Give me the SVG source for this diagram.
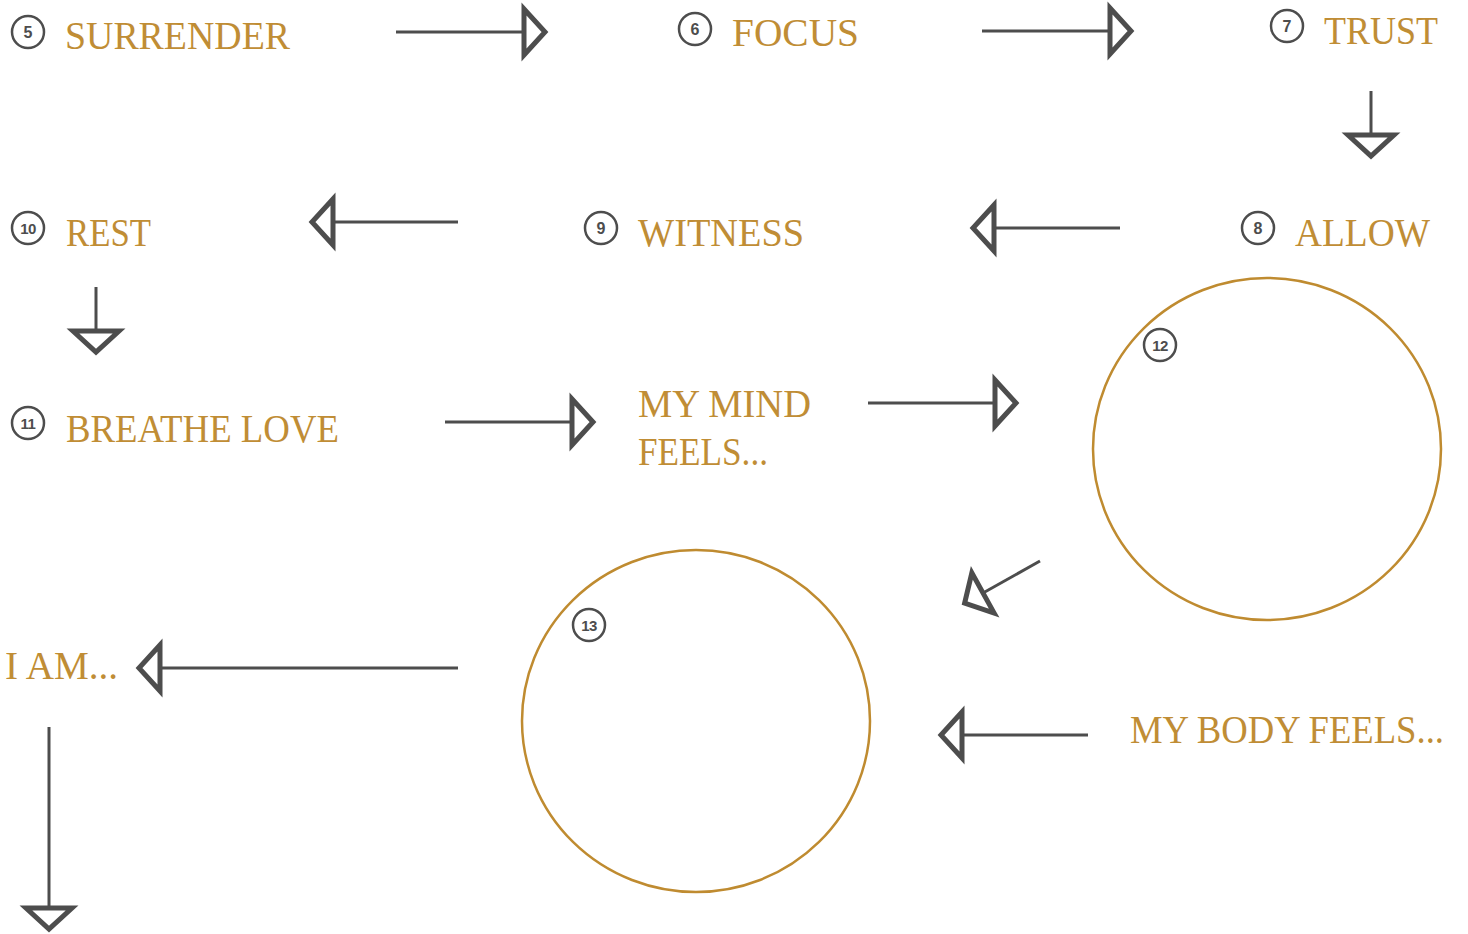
<svg xmlns="http://www.w3.org/2000/svg" xmlns:xlink="http://www.w3.org/1999/xlink" width="1468" height="934" viewBox="0 0 1468 934">
<style>
.lbl{font-family:"Liberation Serif","DejaVu Serif",serif;font-size:40px;fill:#C08D35;}
.num circle{fill:none;stroke:#4D4D4D;stroke-width:2.5;}
.num text{font-family:"Liberation Sans","DejaVu Sans",sans-serif;font-size:16px;font-weight:bold;fill:#4D4D4D;text-anchor:middle;}
.num text.two{font-size:15px;letter-spacing:-0.5px;}
.ln{stroke:#4D4D4D;stroke-width:3;fill:none;}
.hd{fill:#fff;stroke:#4D4D4D;stroke-width:5;stroke-linejoin:miter;stroke-miterlimit:10;}
.ring{fill:none;stroke:#BF8B30;stroke-width:2.5;}
</style>
<defs>
<polygon id="head" class="hd" points="0,-23 0,23 21,0"/>
</defs>
<rect width="1468" height="934" fill="#fff"/>

<g id="n5"><g class="num"><circle cx="28" cy="32" r="16"/><text x="28" y="38">5</text></g><text class="lbl" x="65" y="49" textLength="225" lengthAdjust="spacingAndGlyphs">SURRENDER</text></g>
<g id="n6"><g class="num"><circle cx="695" cy="29" r="16"/><text x="695" y="35">6</text></g><text class="lbl" x="732" y="46" textLength="127" lengthAdjust="spacingAndGlyphs">FOCUS</text></g>
<g id="n7"><g class="num"><circle cx="1287" cy="26" r="16"/><text x="1287" y="32">7</text></g><text class="lbl" x="1324" y="44" textLength="114" lengthAdjust="spacingAndGlyphs">TRUST</text></g>
<g id="n8"><g class="num"><circle cx="1258" cy="228" r="16"/><text x="1258" y="234">8</text></g><text class="lbl" x="1295" y="246" textLength="135" lengthAdjust="spacingAndGlyphs">ALLOW</text></g>
<g id="n9"><g class="num"><circle cx="601" cy="228" r="16"/><text x="601" y="234">9</text></g><text class="lbl" x="638" y="246" textLength="166" lengthAdjust="spacingAndGlyphs">WITNESS</text></g>
<g id="n10"><g class="num"><circle cx="28" cy="228" r="16"/><text class="two" x="28" y="233.5">10</text></g><text class="lbl" x="66" y="246" textLength="85" lengthAdjust="spacingAndGlyphs">REST</text></g>
<g id="n11"><g class="num"><circle cx="28" cy="423" r="16"/><text class="two" x="28" y="428.5">11</text></g><text class="lbl" x="66" y="442" textLength="273" lengthAdjust="spacingAndGlyphs">BREATHE LOVE</text></g>
<g id="mind"><text class="lbl" x="638" y="417" textLength="173" lengthAdjust="spacingAndGlyphs">MY MIND</text><text class="lbl" x="638" y="465" textLength="130" lengthAdjust="spacingAndGlyphs">FEELS...</text></g>
<g id="n12"><ellipse class="ring" cx="1267" cy="449" rx="174" ry="171"/><g class="num"><circle cx="1160" cy="345" r="16"/><text class="two" x="1160" y="350.5">12</text></g></g>
<g id="body"><text class="lbl" x="1130" y="743" textLength="314" lengthAdjust="spacingAndGlyphs">MY BODY FEELS...</text></g>
<g id="n13"><ellipse class="ring" cx="696" cy="721" rx="174" ry="171"/><g class="num"><circle cx="589" cy="625" r="16"/><text class="two" x="589" y="630.5">13</text></g></g>
<g id="iam"><text class="lbl" x="5" y="679" textLength="113" lengthAdjust="spacingAndGlyphs">I AM...</text></g>

<g id="connectors">
<line class="ln" x1="396" y1="32" x2="524" y2="32"/><use xlink:href="#head" transform="translate(524,32)"/>
<line class="ln" x1="982" y1="31" x2="1110" y2="31"/><use xlink:href="#head" transform="translate(1110,31)"/>
<line class="ln" x1="1371" y1="91" x2="1371" y2="135"/><use xlink:href="#head" transform="translate(1371,135) rotate(90)"/>
<line class="ln" x1="1120" y1="228" x2="994" y2="228"/><use xlink:href="#head" transform="translate(994,228) rotate(180)"/>
<line class="ln" x1="458" y1="222" x2="333" y2="222"/><use xlink:href="#head" transform="translate(333,222) rotate(180)"/>
<line class="ln" x1="96" y1="287" x2="96" y2="331"/><use xlink:href="#head" transform="translate(96,331) rotate(90)"/>
<line class="ln" x1="445" y1="422" x2="572" y2="422"/><use xlink:href="#head" transform="translate(572,422)"/>
<line class="ln" x1="868" y1="403" x2="995" y2="403"/><use xlink:href="#head" transform="translate(995,403)"/>
<line class="ln" x1="1040" y1="561" x2="983" y2="593"/><use xlink:href="#head" transform="translate(983,593) rotate(151)"/>
<line class="ln" x1="1088" y1="735" x2="962" y2="735"/><use xlink:href="#head" transform="translate(962,735) rotate(180)"/>
<line class="ln" x1="458" y1="668" x2="160" y2="668"/><use xlink:href="#head" transform="translate(160,668) rotate(180)"/>
<line class="ln" x1="49" y1="727" x2="49" y2="908"/><use xlink:href="#head" transform="translate(49,908) rotate(90)"/>
</g>
</svg>
